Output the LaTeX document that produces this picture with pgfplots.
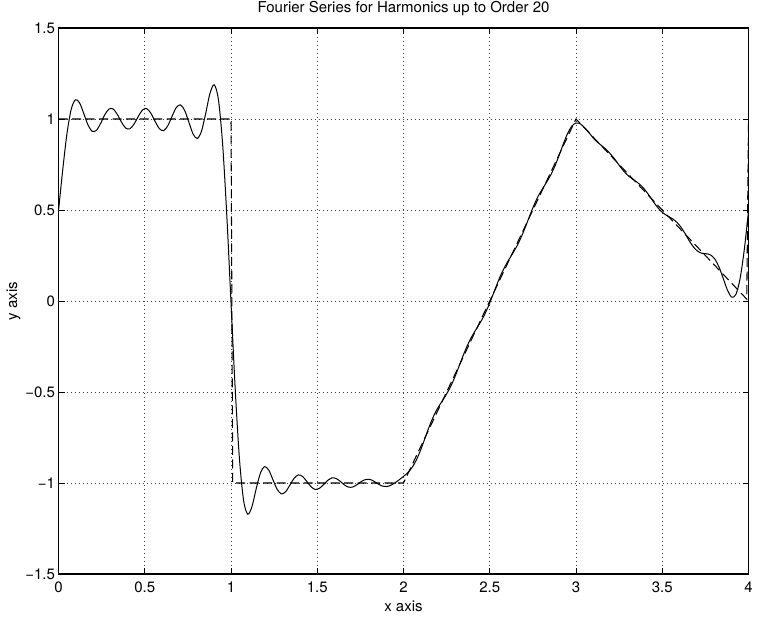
\documentclass[border=0pt]{standalone}
\usepackage{pgfplots}
\pgfplotsset{compat=1.18}
\usepackage{fontspec}
\setmainfont{TeX Gyre Heros}
\begin{document}
\begin{tikzpicture}
\useasboundingbox (0pt,0pt) rectangle (757pt,621pt);
\begin{axis}[
  at={(58.5pt,47pt)}, anchor=south west,
  width=690pt, height=546pt, scale only axis,
  xmin=0, xmax=4, ymin=-1.5, ymax=1.5,
  xtick={0,0.5,1,1.5,2,2.5,3,3.5,4},
  xticklabels={0,0.5,1,1.5,2,2.5,3,3.5,4},
  ytick={-1.5,-1,-0.5,0,0.5,1,1.5},
  yticklabels={−1.5,−1,−0.5,0,0.5,1,1.5},
  tick label style={font=\fontsize{15}{18}\selectfont},
  xticklabel style={yshift=-4pt},
  major tick length=6pt,
  tick style={black, line width=0.8pt},
  axis line style={line width=1.2pt},
  grid=major,
  major grid style={black!75, line width=0.7pt, dash pattern=on 0.8pt off 3.2pt},
  title={Fourier Series for Harmonics up to Order 20},
  title style={font=\fontsize{15}{18}\selectfont, at={(axis description cs:0.5,1.0183)}, anchor=base},
  xlabel={x axis},
  xlabel style={font=\fontsize{15}{18}\selectfont, at={(axis description cs:0.5,-0.069)}, anchor=base},
  ylabel={y axis},
  ylabel style={font=\fontsize{15}{18}\selectfont, at={(axis description cs:-0.0601,0.5)}, anchor=base, rotate=0},
]
\addplot[black, line width=1.05pt, dash pattern=on 9pt off 4.5pt] coordinates {
(0,1) (1,1) (1.01,-1) (2,-1) (3,1) (3.99,0.01) (4,1)};
\addplot[black, line width=1pt, smooth] coordinates {
(0.0000,0.4939) (0.0244,0.7199) (0.0488,0.9177) (0.0732,1.0516) (0.0976,1.1058)
(0.1220,1.0891) (0.1463,1.0307) (0.1707,0.9680) (0.1951,0.9325) (0.2195,0.9372)
(0.2439,0.9752) (0.2683,1.0232) (0.2927,1.0550) (0.3171,1.0549) (0.3415,1.0245)
(0.3659,0.9815) (0.3902,0.9497) (0.4146,0.9465) (0.4390,0.9736) (0.4634,1.0160)
(0.4878,1.0501) (0.5122,1.0564) (0.5366,1.0302) (0.5610,0.9851) (0.5854,0.9462)
(0.6098,0.9364) (0.6341,0.9637) (0.6585,1.0153) (0.6829,1.0630) (0.7073,1.0777)
(0.7317,1.0465) (0.7561,0.9813) (0.7805,0.9168) (0.8049,0.8929) (0.8293,0.9342)
(0.8537,1.0322) (0.8780,1.1401) (0.9024,1.1879) (0.9268,1.1083) (0.9512,0.8651)
(0.9756,0.4720) (1.0000,-0.0080)
(1.0244,-0.4835) (1.0488,-0.8654) (1.0732,-1.0972) (1.0976,-1.1715) (1.1220,-1.1276)
(1.1463,-1.0307) (1.1707,-0.9448) (1.1951,-0.9098) (1.2195,-0.9305) (1.2439,-0.9839)
(1.2683,-1.0362) (1.2927,-1.0599) (1.3171,-1.0476) (1.3415,-1.0113) (1.3659,-0.9739)
(1.3902,-0.9556) (1.4146,-0.9638) (1.4390,-0.9909) (1.4634,-1.0200) (1.4878,-1.0351)
(1.5122,-1.0293) (1.5366,-1.0089) (1.5610,-0.9855) (1.5854,-0.9722) (1.6098,-0.9753)
(1.6341,-0.9916) (1.6585,-1.0112) (1.6829,-1.0231) (1.7073,-1.0215) (1.7317,-1.0084)
(1.7561,-0.9917) (1.7805,-0.9808) (1.8049,-0.9801) (1.8293,-0.9907) (1.8537,-1.0056)
(1.8780,-1.0171) (1.9024,-1.0196) (1.9268,-1.0123) (1.9512,-0.9984) (1.9756,-0.9819)
(2.0000,-0.9637)
(2.0244,-0.9435) (2.0488,-0.9160) (2.0732,-0.8762) (2.0976,-0.8230) (2.1220,-0.7608)
(2.1463,-0.6973) (2.1707,-0.6404) (2.1951,-0.5939) (2.2195,-0.5567) (2.2439,-0.5205)
(2.2683,-0.4793) (2.2927,-0.4290) (2.3171,-0.3708) (2.3415,-0.3101) (2.3659,-0.2536)
(2.3902,-0.2055) (2.4146,-0.1654) (2.4390,-0.1281) (2.4634,-0.0871) (2.4878,-0.0381)
(2.5122,0.0187) (2.5366,0.0786) (2.5610,0.1364) (2.5854,0.1844) (2.6098,0.2256)
(2.6341,0.2632) (2.6585,0.3038) (2.6829,0.3519) (2.7073,0.4082) (2.7317,0.4684)
(2.7561,0.5259) (2.7805,0.5757) (2.8049,0.6154) (2.8293,0.6524) (2.8537,0.6927)
(2.8780,0.7421) (2.9024,0.8010) (2.9268,0.8638) (2.9512,0.9205) (2.9756,0.9608)
(3.0000,0.9780)
(3.0244,0.9735) (3.0488,0.9530) (3.0732,0.9282) (3.0976,0.8980) (3.1220,0.8748)
(3.1463,0.8553) (3.1707,0.8359) (3.1951,0.8127) (3.2195,0.7855) (3.2439,0.7537)
(3.2683,0.7230) (3.2927,0.6972) (3.3171,0.6774) (3.3415,0.6611) (3.3659,0.6439)
(3.3902,0.6215) (3.4146,0.5924) (3.4390,0.5590) (3.4634,0.5260) (3.4878,0.4983)
(3.5122,0.4782) (3.5366,0.4640) (3.5610,0.4506) (3.5854,0.4319) (3.6098,0.4040)
(3.6341,0.3677) (3.6585,0.3275) (3.6829,0.2944) (3.7073,0.2718) (3.7317,0.2620)
(3.7561,0.2595) (3.7805,0.2528) (3.8049,0.2301) (3.8293,0.1862) (3.8537,0.1233)
(3.8780,0.0595) (3.9024,0.0211) (3.9268,0.0361) (3.9512,0.1231) (3.9756,0.2828)
(4.0000,0.4939)};
\end{axis}
\end{tikzpicture}
\end{document}
